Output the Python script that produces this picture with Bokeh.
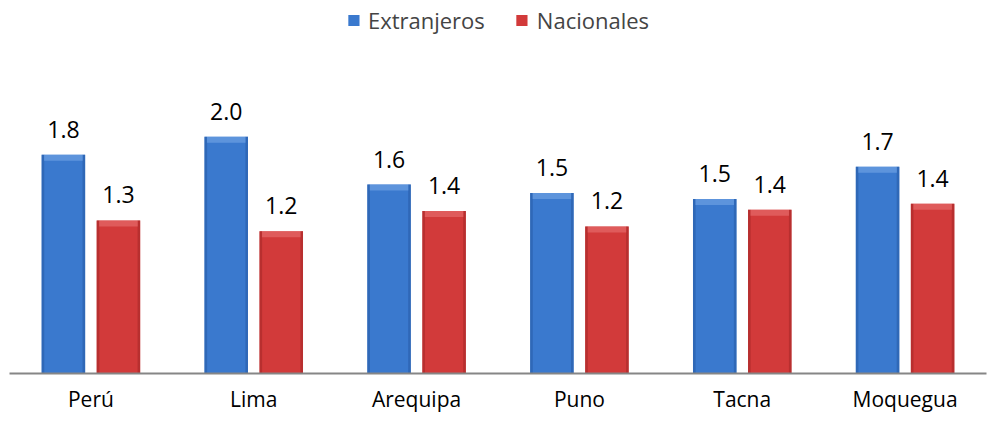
from bokeh.plotting import figure
from bokeh.models import ColumnDataSource, FactorRange, Range1d, Legend, LegendItem
from bokeh.transform import dodge
from bokeh.embed import file_html
from bokeh.resources import INLINE
from bokeh.core.properties import value

categories = ["Perú", "Lima", "Arequipa", "Puno", "Tacna", "Moquegua"]
extranjeros = [1.83, 1.98, 1.58, 1.51, 1.46, 1.73]
nacionales = [1.28, 1.19, 1.36, 1.23, 1.37, 1.42]
series_names = ["Extranjeros", "Nacionales"]

FONT = "Open Sans"
OFF = 0.169
BW = 0.267

src = ColumnDataSource(dict(
    cat=categories,
    ext=extranjeros,
    nac=nacionales,
    ext_lbl=[f"{v:.1f}" for v in extranjeros],
    nac_lbl=[f"{v:.1f}" for v in nacionales],
))

p = figure(width=987, height=415, x_range=FactorRange(*categories),
           y_range=Range1d(0, 3.12), output_backend="svg", toolbar_location=None,
           min_border_left=9, min_border_right=1, min_border_top=0, min_border_bottom=0)
p.outline_line_color = None
p.grid.grid_line_color = None
p.yaxis.visible = False
p.background_fill_color = "white"

styles = {
    "ext": dict(base="#3A79CE", dark="#2B61AE", light="#6C9FE2", off=-OFF),
    "nac": dict(base="#D23A3A", dark="#AD2B2B", light="#E46A6A", off=OFF),
}
renderers = {}
for key, st in styles.items():
    xd = dodge("cat", st["off"], range=p.x_range)
    r = p.vbar(x=xd, top=key, width=BW, source=src, fill_color=st["base"], line_color=None)
    renderers[key] = r
    # side bevels
    p.vbar(x=dodge("cat", st["off"] - BW / 2 + 0.008, range=p.x_range), top=key, width=0.016,
           source=src, fill_color=st["dark"], line_color=None, fill_alpha=0.7)
    p.vbar(x=dodge("cat", st["off"] + BW / 2 - 0.008, range=p.x_range), top=key, width=0.016,
           source=src, fill_color=st["dark"], line_color=None, fill_alpha=0.7)
    # top bevel (light cap)
    p.vbar(x=xd, top=key, bottom=dodge(key, -0.05), width=BW - 0.03, source=src,
           fill_color=st["light"], line_color=None, fill_alpha=0.7)
    # value labels
    p.text(x=xd, y=key, text=key + "_lbl", source=src, text_align="center",
           text_baseline="bottom", y_offset=-17, text_font=value(FONT),
           text_font_size="23px", text_color="#000000")

legend = Legend(items=[LegendItem(label=series_names[0], renderers=[renderers["ext"]]),
                       LegendItem(label=series_names[1], renderers=[renderers["nac"]])],
                orientation="horizontal", location="top_center",
                label_text_font=FONT, label_text_font_size="22px",
                glyph_width=14, glyph_height=14, spacing=30, padding=2, margin=5,
                border_line_color=None, background_fill_alpha=0, label_standoff=8)
p.add_layout(legend, "center")

p.xaxis.axis_line_color = "#868686"
p.xaxis.axis_line_width = 2
p.xaxis.major_tick_line_color = None
p.xaxis.minor_tick_line_color = None
p.xaxis.major_label_text_font = FONT
p.xaxis.major_label_text_font_size = "21px"
p.xaxis.major_label_text_color = "#000000"
p.xaxis.major_label_standoff = 5

open("out.html", "w").write(file_html(p, INLINE))
